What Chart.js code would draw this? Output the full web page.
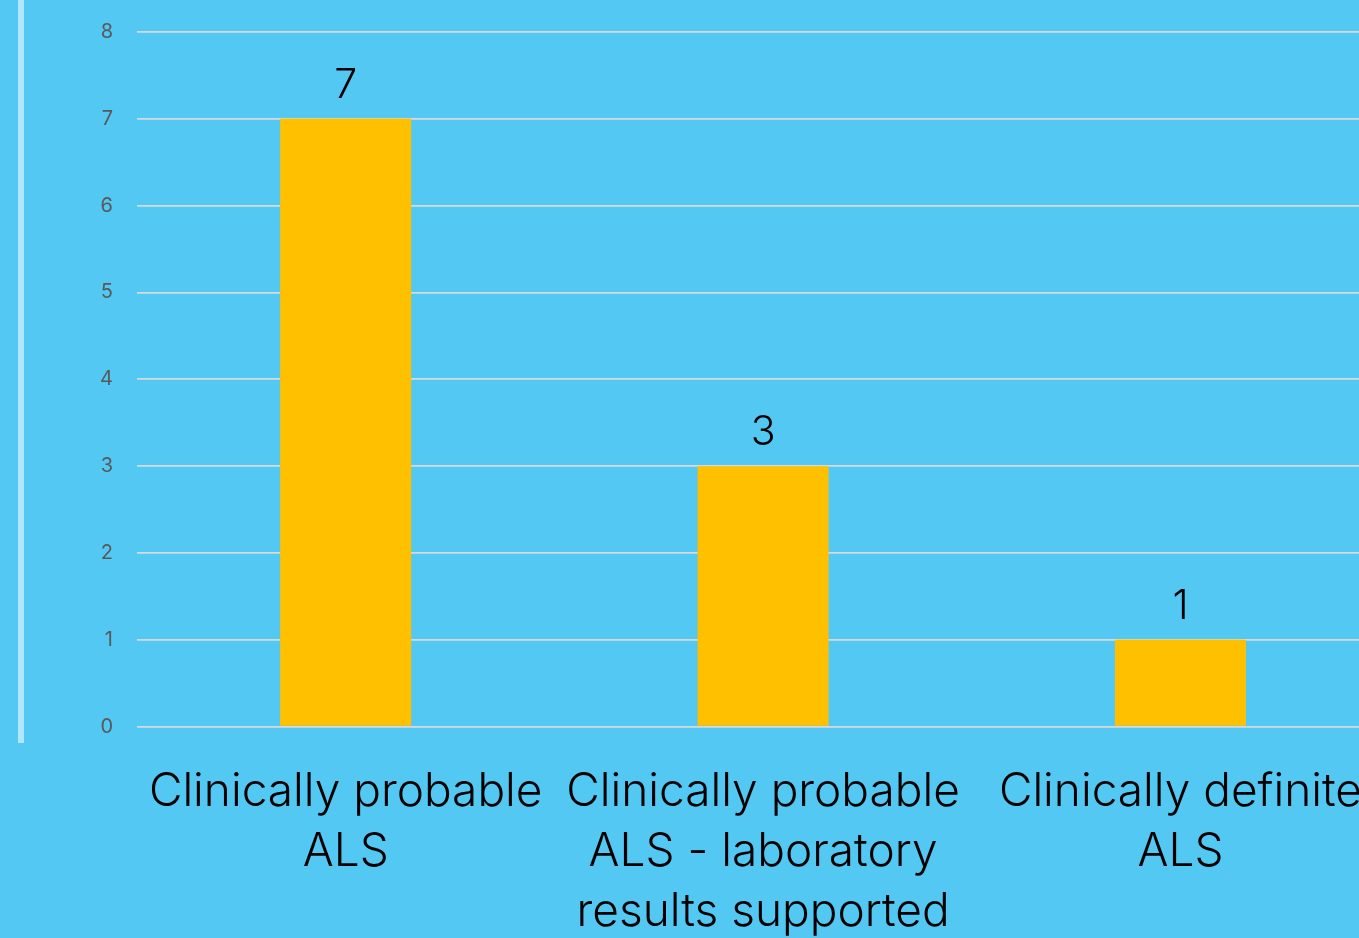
<!DOCTYPE html>
<html>
<head>
<meta charset="utf-8">
<script src="https://cdn.jsdelivr.net/npm/chart.js@4"></script>
<style>
  html, body { margin: 0; padding: 0; background: #53c8f3; overflow: hidden; }
  #wrap { position: relative; width: 1390px; height: 938px; overflow: hidden; }
  #chart { position: absolute; left: 0; top: -4px; }
  #rule { position: absolute; left: 18px; top: 0; width: 6px; height: 743px; background: #b2e6fb; }
</style>
</head>
<body>
<div id="wrap">
  <div id="rule"></div>
  <canvas id="chart" width="1390" height="974"></canvas>
</div>
<script>
// Diagnosis category counts
const categories = [
  ["Clinically probable", "ALS"],
  ["Clinically probable", "ALS - laboratory", "results supported"],
  ["Clinically definite", "ALS"]
];
const counts = [7, 3, 1];
const yMax = 8;

const FONT = "Inter, 'Noto Sans', sans-serif";

// draws the value above each bar
const valueLabels = {
  id: "valueLabels",
  afterDatasetsDraw(chart) {
    const ctx = chart.ctx;
    const meta = chart.getDatasetMeta(0);
    ctx.save();
    ctx.font = "300 41px " + FONT;
    ctx.fillStyle = "#000";
    ctx.textAlign = "center";
    ctx.textBaseline = "alphabetic";
    meta.data.forEach((bar, i) => {
      ctx.fillText(String(counts[i]), bar.x, bar.y - 21);
    });
    ctx.restore();
  }
};

new Chart(document.getElementById("chart"), {
  type: "bar",
  data: {
    labels: categories,
    datasets: [{
      data: counts,
      backgroundColor: "#ffc000",
      borderWidth: 0,
      categoryPercentage: 1,
      barPercentage: 0.314
    }]
  },
  options: {
    responsive: false,
    animation: false,
    layout: { padding: { top: 14, right: 0, bottom: 0, left: 0 } },
    plugins: { legend: { display: false }, tooltip: { enabled: false } },
    scales: {
      x: {
        grid: { display: false },
        border: { display: false },
        ticks: {
          color: "#000",
          font: { family: FONT, size: 46, weight: 300, lineHeight: 1.3 },
          padding: 28,
          maxRotation: 0,
          autoSkip: false
        }
      },
      y: {
        min: 0, max: yMax,
        afterFit(scale) { scale.width = 137; },
        grid: { color: "#d9d9d9", lineWidth: 1.8, drawTicks: false },
        border: { display: false },
        ticks: {
          stepSize: 1,
          color: "#595959",
          padding: 24,
          font: { family: FONT, size: 20 }
        }
      }
    }
  },
  plugins: [valueLabels]
});
</script>
</body>
</html>
